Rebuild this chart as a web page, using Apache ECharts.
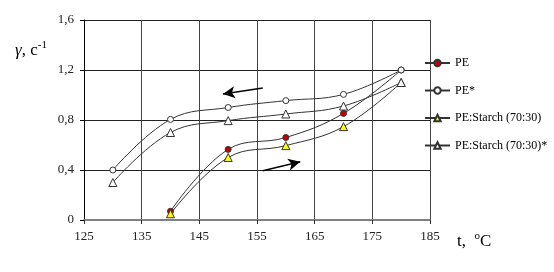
<!DOCTYPE html>
<html><head><meta charset="utf-8">
<script src="https://cdn.jsdelivr.net/npm/echarts@6/dist/echarts.min.js"></script>
<style>html,body{margin:0;padding:0;background:#fff}#c{width:554px;height:272px}</style>
</head><body><div id="c"></div>
<script>
const temps = [130, 140, 150, 160, 170, 180];
const pe = [null, 0.07, 0.565, 0.66, 0.853, 1.2];
const peStar = [0.4, 0.805, 0.9, 0.955, 1.005, 1.2];
const starch = [null, 0.05, 0.5, 0.595, 0.747, 1.1];
const starchStar = [0.3, 0.7, 0.795, 0.848, 0.912, 1.1];
const names = ['PE', 'PE*', 'PE:Starch (70:30)', 'PE:Starch (70:30)*'];
const arrowCool = [[156.0, 1.056], [149.1, 1.008]];
const arrowHeat = [[156.0, 0.394], [162.5, 0.466]];

const serif = 'Liberation Serif';
function pairs(v){ return temps.map((t,i)=>[t, v[i]]).filter(p=>p[1]!==null); }
function ser(name, vals, symbol, fill, extra){
  return Object.assign({
    name, type:'line', data:pairs(vals), smooth:0.4, symbol, symbolSize: symbol==='triangle'?8:6,
    lineStyle:{color:'#333', width:1},
    itemStyle:{color:fill, borderColor:'#333', borderWidth:1},
    emphasis:{disabled:true}
  }, extra||{});
}
const chart = echarts.init(document.getElementById('c'));
chart.setOption({
  animation:false,
  grid:{left:84, right:124, top:20, bottom:52},
  legend:{
    orient:'vertical', left:424, top:57, padding:0, itemGap:15.5, itemWidth:25, itemHeight:8,
    textStyle:{fontFamily:serif, fontSize:12, color:'#000'},
    data:names
  },
  xAxis:{
    type:'value', min:125, max:185, interval:10,
    axisLine:{show:true, onZero:false, lineStyle:{color:'#808080', width:2}},
    axisTick:{show:true, length:4, lineStyle:{color:'#333'}},
    axisLabel:{fontFamily:serif, fontSize:13, color:'#222', margin:10},
    splitLine:{show:true, lineStyle:{color:'#444', width:1}}
  },
  yAxis:{
    type:'value', min:0, max:1.6, interval:0.4,
    axisLine:{show:true, lineStyle:{color:'#000', width:1}},
    axisTick:{show:true, length:4, lineStyle:{color:'#000'}},
    axisLabel:{fontFamily:serif, fontSize:13, color:'#222', margin:10,
      formatter:v=>v===0?'0':v.toFixed(1).replace('.', ',')},
    splitLine:{show:true, lineStyle:{color:'#222', width:1}}
  },
  graphic:[
    {type:'text', left:15, top:40, style:{
      text:'{g|γ}{n|, с}{s|-1}',
      rich:{g:{fontFamily:serif, fontStyle:'italic', fontSize:17, fill:'#000'},
            n:{fontFamily:serif, fontSize:17, fill:'#000'},
            s:{fontFamily:serif, fontSize:11, fill:'#000', verticalAlign:'top', padding:[0,0,10,0]}}}},
    {type:'text', left:457, top:231, style:{
      text:'{n|t,  }{s|o}{n|C}',
      rich:{n:{fontFamily:serif, fontSize:17, fill:'#000'},
            s:{fontFamily:serif, fontSize:11, fill:'#000', padding:[0,0,10,0]}}}}
  ],
  series:[
    ser(names[0], pe, 'circle', '#c00000'),
    ser(names[1], peStar, 'circle', '#ffffff', {
      markLine:{silent:true, symbol:['none','arrow'], symbolSize:[9,12], label:{show:false},
        lineStyle:{color:'#000', width:1.3, type:'solid'},
        data:[[{coord:arrowCool[0]},{coord:arrowCool[1]}],[{coord:arrowHeat[0]},{coord:arrowHeat[1]}]]}
    }),
    ser(names[2], starch, 'triangle', '#ffff00'),
    ser(names[3], starchStar, 'triangle', '#ffffff')
  ]
});
</script></body></html>
